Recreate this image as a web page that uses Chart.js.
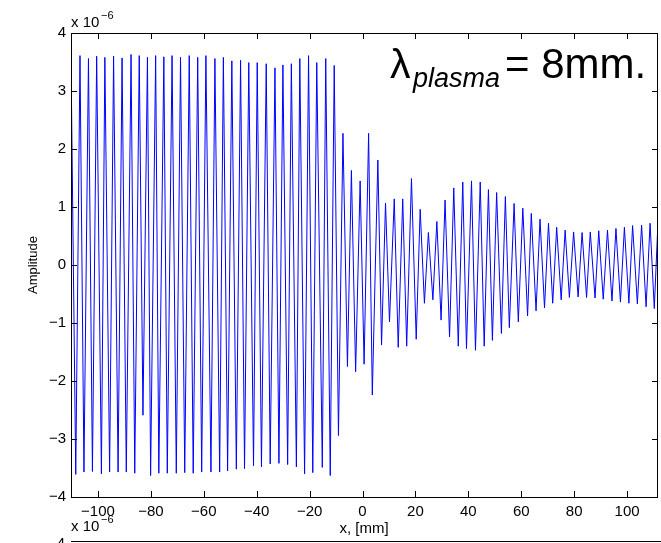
<!DOCTYPE html>
<html>
<head>
<meta charset="utf-8">
<script src="https://cdn.jsdelivr.net/npm/chart.js@4.4.1/dist/chart.umd.min.js"></script>
<style>
  html, body { margin: 0; padding: 0; background: #fff; }
  #wrap { width: 661px; height: 543px; }
</style>
</head>
<body>
<div id="wrap"><canvas id="plot" width="661" height="543"></canvas></div>
<script>
/* amplitude, in units of 1e-6; x in mm */
const peakX = [
  -110.2, -106.8, -103.6, -100.5, -97.4, -94.1, -90.9, -87.5, -84.4, -81.3,
  -78.2, -75.1, -72.0, -68.8, -65.5, -62.3, -59.2, -55.8, -52.6, -49.4,
  -46.1, -43.0, -39.8, -36.4, -33.1, -30.1, -26.9, -23.7, -20.4, -17.3,
  -13.9, -10.7, -7.4, -4.2, -0.9, 2.3, 5.8, 8.7, 12.0, 15.2,
  18.5, 21.8, 24.9, 28.1, 31.2, 34.5, 37.9, 41.2, 44.5, 47.6,
  50.7, 54.0, 57.3, 60.6, 63.8, 67.1, 70.3, 73.4, 76.6, 79.8,
  83.0, 86.1, 89.3, 92.6, 95.8, 99.0, 102.1, 105.5, 108.7, 111.7
];
const peakAmp = [
  3.55, 3.61, 3.56, 3.60, 3.58, 3.60, 3.57, 3.63, 3.61, 3.58,
  3.61, 3.59, 3.61, 3.58, 3.61, 3.58, 3.61, 3.56, 3.58, 3.52,
  3.53, 3.49, 3.49, 3.47, 3.40, 3.45, 3.47, 3.56, 3.61, 3.49,
  3.56, 3.44, 2.27, 1.63, 1.45, 2.27, 1.81, 1.07, 1.14, 1.14,
  1.49, 0.96, 0.56, 0.75, 1.12, 1.33, 1.43, 1.45, 1.43, 1.30,
  1.25, 1.18, 1.06, 0.98, 0.89, 0.79, 0.72, 0.65, 0.60, 0.57,
  0.56, 0.57, 0.59, 0.60, 0.63, 0.65, 0.68, 0.69, 0.72, 0.75
];
const troughX = [
  -108.4, -105.3, -102.1, -98.7, -95.6, -92.4, -89.3, -86.1, -83.0, -80.1,
  -77.0, -73.8, -70.4, -67.2, -64.0, -60.8, -57.3, -54.0, -51.0, -47.7,
  -44.6, -41.2, -38.2, -34.9, -31.6, -28.3, -25.0, -21.9, -18.8, -15.2,
  -12.2, -9.1, -5.7, -2.6, 0.6, 3.7, 7.2, 10.2, 13.5, 16.7,
  20.3, 23.4, 26.6, 29.7, 32.9, 36.2, 39.3, 42.7, 46.0, 49.1,
  52.5, 55.5, 58.9, 62.4, 65.6, 68.8, 71.9, 75.1, 78.2, 81.5,
  84.7, 87.9, 91.0, 94.3, 97.5, 100.7, 103.9, 107.2, 110.3
];
const troughAmp = [
  -3.61, -3.57, -3.56, -3.60, -3.57, -3.57, -3.57, -3.59, -2.59, -3.63,
  -3.59, -3.59, -3.59, -3.58, -3.59, -3.57, -3.57, -3.57, -3.55, -3.52,
  -3.51, -3.46, -3.48, -3.43, -3.42, -3.44, -3.48, -3.60, -3.58, -3.49,
  -3.63, -2.94, -1.75, -1.84, -1.71, -2.24, -1.38, -0.98, -1.42, -1.40,
  -1.28, -0.66, -0.60, -0.95, -1.24, -1.40, -1.44, -1.47, -1.40, -1.30,
  -1.18, -1.08, -0.98, -0.88, -0.79, -0.74, -0.66, -0.60, -0.56, -0.55,
  -0.56, -0.57, -0.59, -0.62, -0.64, -0.66, -0.67, -0.72, -0.75
];
const xTicks = [-100, -80, -60, -40, -20, 0, 20, 40, 60, 80, 100];
const yTicks = [-4, -3, -2, -1, 0, 1, 2, 3, 4];
const xMin = -110.2, xMax = 111.7;

const FONT = "'Liberation Sans', Arial, Helvetica, sans-serif";
const minus = v => String(v).replace('-', '\u2212');

// peaks and troughs in x order
const points = peakX.map((x, i) => ({ x, y: peakAmp[i] }))
  .concat(troughX.map((x, i) => ({ x, y: troughAmp[i] })))
  .sort((a, b) => a.x - b.x);

/* frame, inward ticks and the loose texts of the matlab figure */
const matlabBits = {
  id: 'matlabBits',
  afterDraw(chart) {
    const { ctx, chartArea: a, scales } = chart;
    ctx.save();
    ctx.strokeStyle = '#000';
    ctx.lineWidth = 1;
    ctx.strokeRect(a.left + 0.5, a.top + 0.5, a.right - a.left - 1, a.bottom - a.top);
    ctx.beginPath();
    xTicks.forEach(v => {
      const px = Math.round(scales.x.getPixelForValue(v)) + 0.5;
      ctx.moveTo(px, a.bottom); ctx.lineTo(px, a.bottom - 6);
      ctx.moveTo(px, a.top); ctx.lineTo(px, a.top + 6);
    });
    yTicks.forEach(v => {
      const py = Math.round(scales.y.getPixelForValue(v)) + 0.5;
      ctx.moveTo(a.left, py); ctx.lineTo(a.left + 6, py);
      ctx.moveTo(a.right, py); ctx.lineTo(a.right - 6, py);
    });
    ctx.stroke();

    ctx.fillStyle = '#000';
    ctx.textBaseline = 'alphabetic';
    // exponent, top
    ctx.textAlign = 'left';
    ctx.font = '15px ' + FONT;
    ctx.fillText('x 10', 71, 27);
    ctx.font = '11px ' + FONT;
    ctx.fillText('\u22126', 101, 19);

    // y label
    ctx.save();
    ctx.translate(37, 265);
    ctx.rotate(-Math.PI / 2);
    ctx.textAlign = 'center';
    ctx.font = '13px ' + FONT;
    ctx.fillText('Amplitude', 0, 0);
    ctx.restore();

    // x label
    ctx.textAlign = 'center';
    ctx.font = '15px ' + FONT;
    ctx.fillText('x, [mm]', 364, 533);

    // next subplot peeking in at the bottom
    ctx.textAlign = 'left';
    ctx.font = '15px ' + FONT;
    ctx.fillText('x 10', 71, 531);
    ctx.font = '11px ' + FONT;
    ctx.fillText('\u22126', 101, 523);
    ctx.textAlign = 'right';
    ctx.font = '15px ' + FONT;
    ctx.fillText('4', 65, 548);
    ctx.beginPath();
    ctx.moveTo(a.left, 541.5); ctx.lineTo(661, 541.5);
    ctx.stroke();

    // annotation
    ctx.textAlign = 'left';
    ctx.font = '41px ' + FONT;
    ctx.fillText('\u03bb', 390, 78);
    ctx.font = 'italic 27px ' + FONT;
    ctx.fillText('plasma', 413, 87);
    ctx.font = '42px ' + FONT;
    ctx.fillText('= 8mm.', 505, 78);
    ctx.restore();
  }
};

new Chart(document.getElementById('plot'), {
  type: 'line',
  data: {
    datasets: [{
      label: 'Amplitude',
      data: points,
      borderColor: '#0000ff',
      borderWidth: 1,
      pointRadius: 0,
      tension: 0,
      fill: false,
    }]
  },
  options: {
    responsive: false,
    animation: false,
    layout: { padding: { top: 33, right: 3, left: 0, bottom: 0 } },
    plugins: { legend: { display: false }, tooltip: { enabled: false } },
    scales: {
      x: {
        type: 'linear', min: xMin, max: xMax,
        afterBuildTicks: s => { s.ticks = xTicks.map(value => ({ value })); },
        afterFit: s => { s.height = 46; },
        grid: { display: false, drawTicks: false }, border: { display: false },
        ticks: { color: '#000', padding: 6, maxRotation: 0,
                 font: { family: FONT, size: 15 }, callback: minus }
      },
      y: {
        min: -4, max: 4,
        afterBuildTicks: s => { s.ticks = yTicks.map(value => ({ value })); },
        afterFit: s => { s.width = 71; },
        grid: { display: false, drawTicks: false }, border: { display: false },
        ticks: { color: '#000', padding: 5,
                 font: { family: FONT, size: 15 }, callback: minus }
      }
    }
  },
  plugins: [matlabBits]
});
</script>
</body>
</html>
